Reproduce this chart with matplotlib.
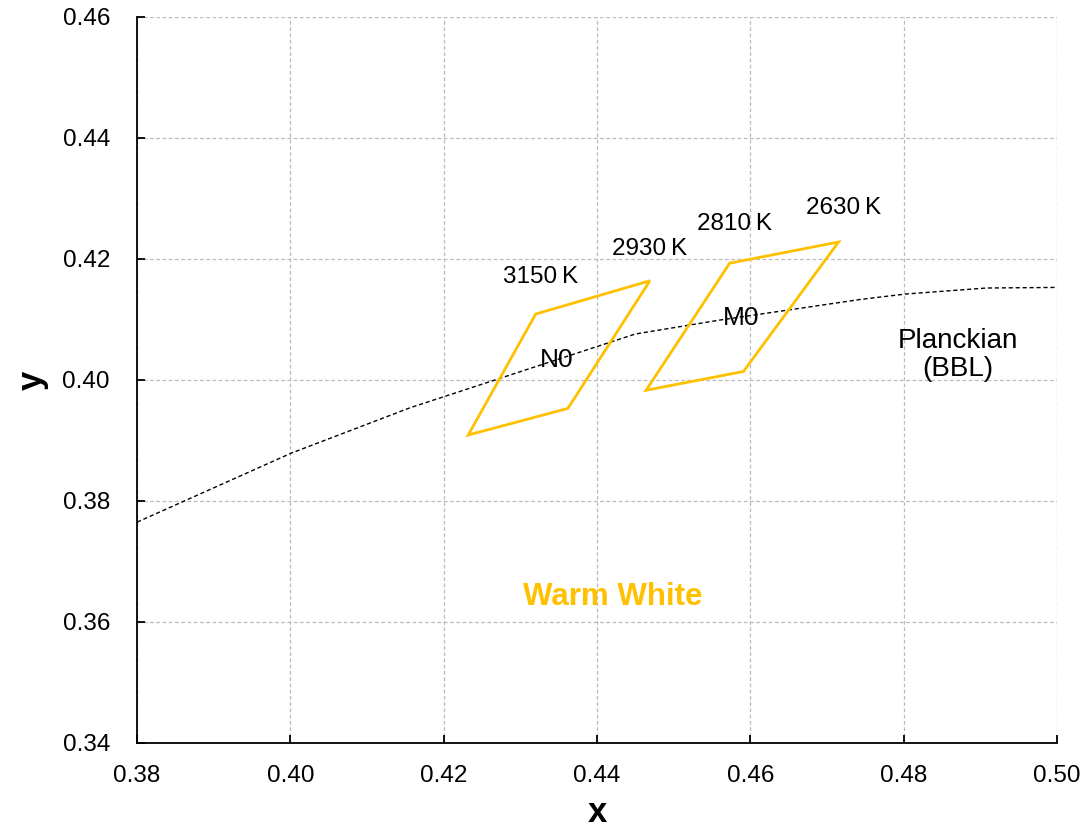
import matplotlib
matplotlib.use('Agg')
import matplotlib.pyplot as plt

plt.rcParams['font.family'] = ['Liberation Sans', 'DejaVu Sans']

gold = '#FFC000'

# Planckian locus (black body line)
bbl_x = [0.3800, 0.4001, 0.4156, 0.4450, 0.4560, 0.4743, 0.4802, 0.4908, 0.5001]
bbl_y = [0.3765, 0.3879, 0.3954, 0.4076, 0.4099, 0.4133, 0.4142, 0.4152, 0.4153]

# quadrangles: top-left, top-right, bottom-right, bottom-left
n0_x = [0.4320, 0.4469, 0.4362, 0.4232]
n0_y = [0.4109, 0.4164, 0.3953, 0.3909]
m0_x = [0.4573, 0.4715, 0.4591, 0.4464]
m0_y = [0.4193, 0.4228, 0.4014, 0.3983]

cct_labels = ['3150\u2009K', '2930\u2009K', '2810\u2009K', '2630\u2009K']
cct_x = [0.4326, 0.4469, 0.4579, 0.4721]
cct_y = [0.4170, 0.4217, 0.4258, 0.4284]

xticks = [0.38, 0.40, 0.42, 0.44, 0.46, 0.48, 0.50]
yticks = [0.34, 0.36, 0.38, 0.40, 0.42, 0.44, 0.46]

fig = plt.figure(figsize=(10.86, 8.32), dpi=100)
ax = fig.add_axes([0.1262, 0.1070, 0.8471, 0.8726])

ax.plot(bbl_x, bbl_y, color='black', lw=1.0, ls=(0, (3, 2)), zorder=3)

for px, py in [(n0_x, n0_y), (m0_x, m0_y)]:
    ax.fill(px, py, facecolor='none', edgecolor=gold, lw=2.0, zorder=4)

for lab, tx, ty in zip(cct_labels, cct_x, cct_y):
    ax.text(tx, ty, lab, ha='center', va='center', fontsize=17.5)

ax.text(0.4348, 0.4033, 'N0', ha='center', va='center', fontsize=19, zorder=5)
ax.text(0.4588, 0.4102, 'M0', ha='center', va='center', fontsize=19, zorder=5)
ax.text(0.4871, 0.4041, 'Planckian\n(BBL)', ha='center', va='center',
        fontsize=20, linespacing=1.1)
ax.text(0.4421, 0.3641, 'Warm White', ha='center', va='center',
        fontsize=22.5, fontweight='bold', color=gold)

ax.set_xlim(0.38, 0.50)
ax.set_ylim(0.34, 0.46)
ax.set_xticks(xticks)
ax.set_yticks(yticks)
ax.set_xticklabels(['%.2f' % v for v in xticks])
ax.set_yticklabels(['%.2f' % v for v in yticks])
ax.tick_params(direction='in', length=6, width=1.3, labelsize=17.5)
ax.tick_params(axis='x', pad=16)
ax.tick_params(axis='y', pad=19.5)

ax.grid(True, color='#BBBBBB', ls=(0, (3, 2)), lw=0.9)
ax.set_axisbelow(True)
for s in ['top', 'right']:
    ax.spines[s].set_visible(False)
for s in ['left', 'bottom']:
    ax.spines[s].set_linewidth(1.3)

ax.set_xlabel('x', fontsize=25, fontweight='bold', labelpad=6)
ax.set_ylabel('y', fontsize=25, fontweight='bold', labelpad=10)

fig.savefig('out.png', dpi=100)
